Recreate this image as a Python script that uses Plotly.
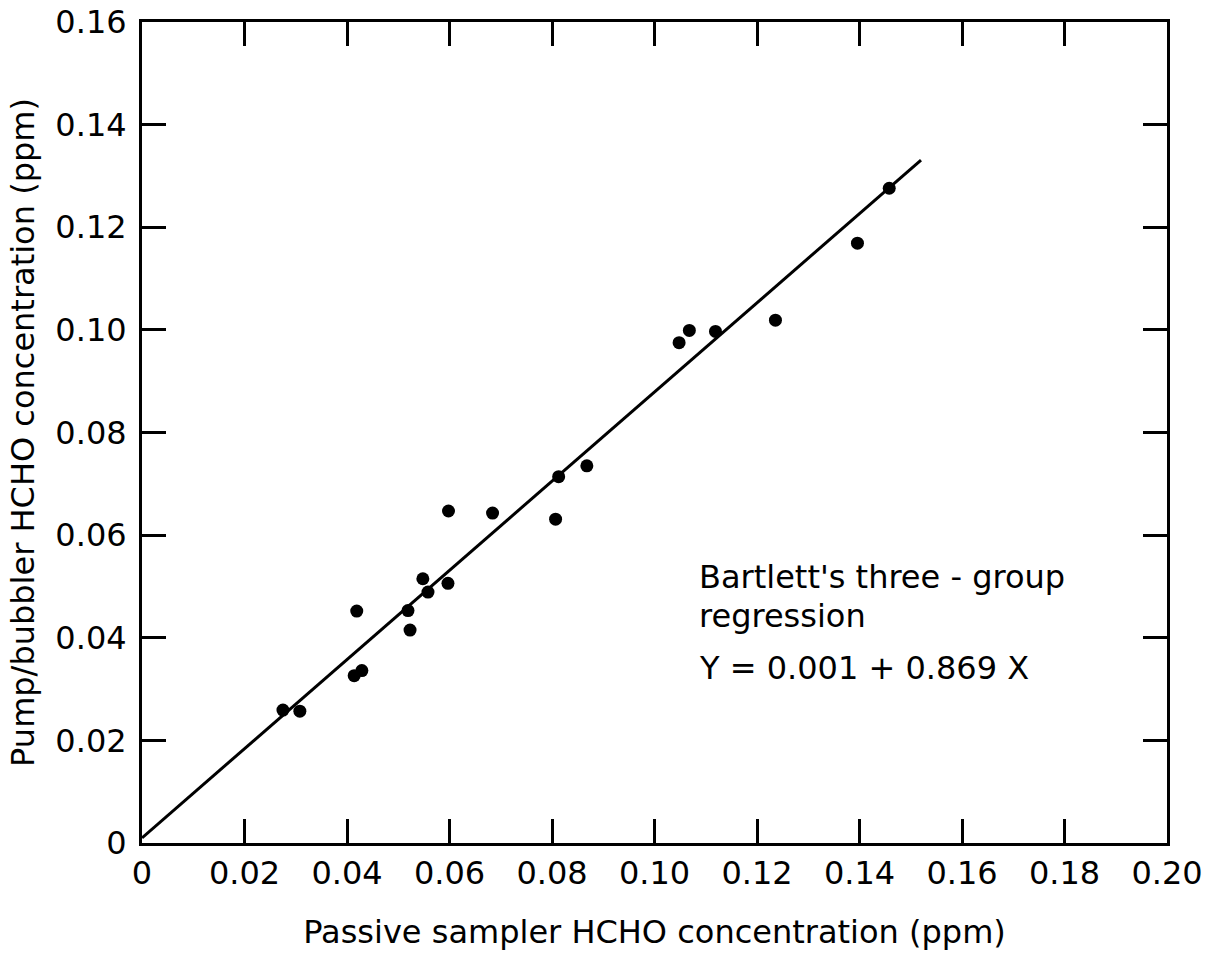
import plotly.graph_objects as go

# Data
passive_x = [0.0275, 0.0308, 0.0414, 0.0429, 0.0419, 0.0519, 0.0523, 0.0548, 0.0558, 0.0597,
             0.0598, 0.0684, 0.0807, 0.0813, 0.0868, 0.1048, 0.1068, 0.1119, 0.1236, 0.1396, 0.1458]
pump_y = [0.0259, 0.0257, 0.0326, 0.0336, 0.0452, 0.0453, 0.0415, 0.0515, 0.0489, 0.0506,
          0.0647, 0.0643, 0.0631, 0.0714, 0.0735, 0.0975, 0.0999, 0.0997, 0.1019, 0.1169, 0.1276]

intercept = 0.001
slope = 0.869
line_x = [0.0, 0.152]
line_y = [intercept + slope * v for v in line_x]

x_ticks = [0, 0.02, 0.04, 0.06, 0.08, 0.10, 0.12, 0.14, 0.16, 0.18, 0.20]
x_ticktext = ["0", "0.02", "0.04", "0.06", "0.08", "0.10", "0.12", "0.14", "0.16", "0.18", "0.20"]
y_ticks = [0, 0.02, 0.04, 0.06, 0.08, 0.10, 0.12, 0.14, 0.16]
y_ticktext = ["0", "0.02", "0.04", "0.06", "0.08", "0.10", "0.12", "0.14", "0.16"]

annotation_lines = ["Bartlett's three - group", "regression", "Y = 0.001 + 0.869 X"]
annotation_y = [0.0518, 0.0442, 0.0342]

FONT = "'DejaVu Sans', sans-serif"
FS = 32

fig = go.Figure()
fig.add_trace(go.Scatter(x=line_x, y=line_y, mode="lines",
                         line=dict(color="black", width=3), showlegend=False))
fig.add_trace(go.Scatter(x=passive_x, y=pump_y, mode="markers",
                         marker=dict(color="black", size=13), showlegend=False))

for txt, yy in zip(annotation_lines, annotation_y):
    fig.add_annotation(x=0.1083, y=yy, xref="x", yref="y", xanchor="left", yanchor="middle",
                       align="left", showarrow=False, text=txt,
                       font=dict(family=FONT, size=FS, color="black"))

axis_common = dict(showline=True, linecolor="black", linewidth=3, mirror="ticks",
                   ticks="inside", ticklen=24, tickwidth=2.5, tickcolor="black",
                   showgrid=False, zeroline=False, automargin=False,
                   tickfont=dict(family=FONT, size=FS, color="black"))

fig.update_layout(
    width=1209, height=957,
    margin=dict(l=142, r=42, t=22, b=114),
    plot_bgcolor="white", paper_bgcolor="white",
    xaxis=dict(range=[0, 0.20], tickvals=x_ticks, ticktext=x_ticktext,
               ticklabelstandoff=0,
               title=dict(text="Passive sampler HCHO concentration (ppm)",
                          font=dict(family=FONT, size=FS, color="black"), standoff=30),
               **axis_common),
    yaxis=dict(range=[0, 0.16], tickvals=y_ticks, ticktext=y_ticktext,
               ticklabelstandoff=6,
               title=dict(text="Pump/bubbler HCHO concentration (ppm)",
                          font=dict(family=FONT, size=FS, color="black"), standoff=12),
               **axis_common),
)

fig.write_html("out.html")
